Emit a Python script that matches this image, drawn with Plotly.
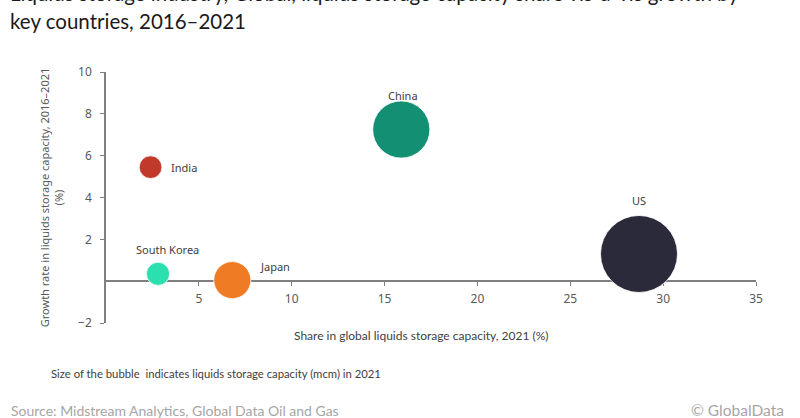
import plotly.graph_objects as go

# data
countries = ["India", "South Korea", "Japan", "China", "US"]
share_2021 = [2.4, 2.8, 6.8, 15.9, 28.7]          # share in global capacity, %
growth_16_21 = [5.45, 0.35, 0.05, 7.25, 1.3]      # growth rate 2016-2021, %
capacity_mcm = [24, 25, 64, 152, 276]             # bubble size, mcm in 2021
colours = ["#C0392B", "#2BE0AE", "#F07B25", "#138F74", "#2B2A3A"]

x_ticks = [5, 10, 15, 20, 25, 30, 35]
y_ticks = [-2, 2, 4, 6, 8, 10]

# label offsets from bubble centre, pixels
label_dx = [18, 9, 26, 2, 0]
label_dy = [0, 24, 14, 34, 53]
label_anchor = ["left", "center", "left", "center", "center"]

W, H = 800, 418
ml, mr, mt, mb = 106, 44, 72, 95
pw, ph = W - ml - mr, H - mt - mb

def px_x(p):
    return (p - ml) / pw

def px_y(p):
    return 1 - (p - mt) / ph

body_font = "Lato"
tick_font = dict(family="Noto Sans", size=12, color="#595959")

fig = go.Figure()
fig.add_trace(go.Scatter(
    x=share_2021, y=growth_16_21, mode="markers",
    text=countries,
    marker=dict(size=capacity_mcm, sizemode="area",
                sizeref=2 * max(capacity_mcm) / 77 ** 2,
                color=colours, opacity=1,
                line=dict(color="white", width=0.8)),
    cliponaxis=False, showlegend=False, hoverinfo="text",
))

for c, x, y, dx, dy, a in zip(countries, share_2021, growth_16_21, label_dx, label_dy, label_anchor):
    fig.add_annotation(text=c, x=x, y=y, xshift=dx, yshift=dy, xanchor=a, yanchor="middle",
                       showarrow=False, font=dict(family="Noto Sans", size=11, color="#404040"))

fig.update_layout(
    width=W, height=H,
    margin=dict(l=ml, r=mr, t=mt, b=mb),
    paper_bgcolor="white", plot_bgcolor="white",
    xaxis=dict(range=[0, 35], tickvals=x_ticks, ticks="outside", ticklen=4,
               tickcolor="#7f7f7f", showline=True, linecolor="#7f7f7f", linewidth=1.5,
               showgrid=False, zeroline=False, anchor="free", position=2 / 12,
               layer="below traces", tickfont=tick_font, ticklabelstandoff=3),
    yaxis=dict(range=[-2, 10], tickvals=y_ticks, ticks="outside", ticklen=4,
               tickcolor="#7f7f7f", showline=True, linecolor="#7f7f7f", linewidth=1.5,
               showgrid=False, zeroline=False, layer="below traces", tickfont=tick_font,
               ticklabelstandoff=6,
               title=dict(text="Growth rate in liquids storage capacity, 2016\u20132021<br>(%)",
                          font=dict(family="Noto Sans", size=11, color="#595959"),
                          standoff=12)),
)

notes = [
    dict(text="Liquids storage industry, Global, liquids storage capacity share vis-\u00e0-vis growth by",
         x=px_x(8), y=px_y(-7.5), size=20.5, color="#1a1a1a", xanchor="left"),
    dict(text="key countries, 2016\u20132021",
         x=px_x(8), y=px_y(21), size=20.5, color="#1a1a1a", xanchor="left"),
    dict(text="Share in global liquids storage capacity, 2021 (%)",
         x=px_x(421), y=px_y(335), size=12, color="#404040", xanchor="center"),
    dict(text="Size of the bubble  indicates liquids storage capacity (mcm) in 2021",
         x=px_x(49), y=px_y(373), size=11.3, color="#404040", xanchor="left"),
    dict(text="Source: Midstream Analytics, Global Data Oil and Gas",
         x=px_x(9), y=px_y(410), size=14, color="#a6a6a6", xanchor="left"),
    dict(text="\u00a9 GlobalData",
         x=px_x(786), y=px_y(410), size=15.5, color="#a6a6a6", xanchor="right"),
]
for n in notes:
    fig.add_annotation(text=n["text"], x=n["x"], y=n["y"], xref="paper", yref="paper",
                       xanchor=n["xanchor"], yanchor="middle", showarrow=False,
                       font=dict(family=body_font, size=n["size"], color=n["color"]))

fig.write_html("out.html", config={"displayModeBar": False},
               post_script="document.body.style.margin='0';")
